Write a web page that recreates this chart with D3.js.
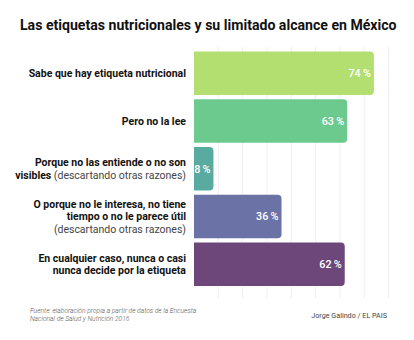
<!DOCTYPE html>
<html>
<head>
<meta charset="utf-8">
<script src="https://cdn.jsdelivr.net/npm/d3@7"></script>
<style>
  html, body { margin: 0; padding: 0; background: #fff; }
  svg { display: block; font-family: Roboto, "Noto Sans", sans-serif; }
</style>
</head>
<body>
<svg id="chart" width="414" height="340"></svg>
<script>
// Survey answers, top to bottom
const categories = [
  "Sabe que hay etiqueta nutricional",
  "Pero no la lee",
  "Porque no las entiende o no son visibles",
  "O porque no le interesa, no tiene tiempo o no le parece útil",
  "En cualquier caso, nunca o casi nunca decide por la etiqueta"
];
const values = [74, 63, 8, 36, 62];
const barColors = ["#b3de70", "#6dca8e", "#5aab9f", "#6a72a6", "#6d467a"];

// Label lines: each line is a list of [text, bold] runs
const labelLines = [
  [[["Sabe que hay etiqueta nutricional", true]]],
  [[["Pero no la lee", true]]],
  [[["Porque no las entiende o no son", true]],
   [["visibles", true], [" (descartando otras razones)", false]]],
  [[["O porque no le interesa, no tiene", true]],
   [["tiempo o no le parece útil", true]],
   [["(descartando otras razones)", false]]],
  [[["En cualquier caso, nunca o casi", true]],
   [["nunca decide por la etiqueta", true]]]
];
const gridTicks = [10, 20, 30, 40, 50, 60, 70, 80];

const svg = d3.select("#chart");

const x = d3.scaleLinear().domain([0, 80]).range([194, 388.5]);
const y = d3.scaleBand().domain(categories).range([51.5, 286]).paddingInner(0.09).paddingOuter(0);

// Title
svg.append("text")
  .attr("x", 20).attr("y", 30)
  .attr("font-size", 14.1).attr("font-weight", 700).attr("fill", "#111")
  .text("Las etiquetas nutricionales y su limitado alcance en México");

// Faint vertical grid
svg.append("g").selectAll("line").data(gridTicks).join("line")
  .attr("x1", d => x(d)).attr("x2", d => x(d))
  .attr("y1", 47).attr("y2", 298)
  .attr("stroke", "#efefef").attr("stroke-width", 1);

// Bars with rounded right ends
const r = 4;
function barPath(d, i) {
  const x0 = x(0), x1 = x(d), y0 = y(categories[i]), h = y.bandwidth();
  const rr = Math.min(r, (x1 - x0));
  return `M${x0},${y0}H${x1 - rr}Q${x1},${y0} ${x1},${y0 + rr}V${y0 + h - rr}Q${x1},${y0 + h} ${x1 - rr},${y0 + h}H${x0}Z`;
}
svg.append("g").selectAll("path").data(values).join("path")
  .attr("d", barPath)
  .attr("fill", (d, i) => barColors[i]);

// Value labels inside bar ends
svg.append("g").selectAll("text").data(values).join("text")
  .attr("x", d => x(d) - 3)
  .attr("y", (d, i) => y(categories[i]) + y.bandwidth() / 2 + 3.8)
  .attr("text-anchor", "end")
  .attr("font-size", 10.8).attr("font-weight", 500).attr("fill", "#fff")
  .text(d => d + "\u2009%");

// Category labels
const lineH = 12.4;
const labels = svg.append("g");
labelLines.forEach((lines, i) => {
  const cy = y(categories[i]) + y.bandwidth() / 2;
  const top = cy - (lines.length - 1) * lineH / 2 + 3.6;
  lines.forEach((runs, j) => {
    const t = labels.append("text")
      .attr("x", 186).attr("y", top + j * lineH)
      .attr("text-anchor", "end")
      .attr("font-size", 10.5);
    runs.forEach(([txt, bold]) => {
      t.append("tspan")
        .attr("font-weight", bold ? 700 : 400)
        .attr("fill", bold ? "#111" : "#444")
        .text(txt);
    });
  });
});

// Footer
const foot = svg.append("g").attr("font-size", 6.7).attr("font-style", "italic")
  .attr("font-weight", 300).attr("fill", "#555");
foot.append("text").attr("x", 30).attr("y", 312.5)
  .text("Fuente: elaboración propia a partir de datos de la Encuesta");
foot.append("text").attr("x", 30).attr("y", 320.5)
  .text("Nacional de Salud y Nutrición 2016");
svg.append("text").attr("x", 387).attr("y", 317.5)
  .attr("text-anchor", "end").attr("font-size", 7.2).attr("fill", "#444")
  .text("Jorge Galindo / EL PAIS");
</script>
</body>
</html>
